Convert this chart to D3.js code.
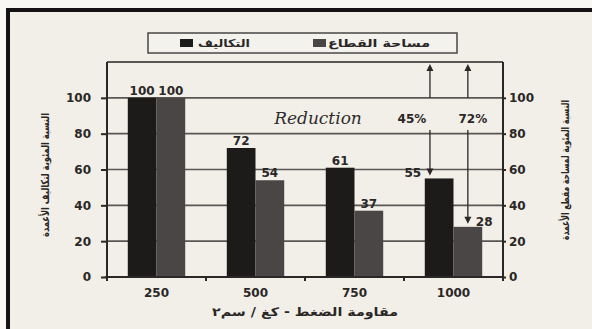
<!DOCTYPE html>
<html>
<head>
<meta charset="utf-8">
<script src="https://cdn.jsdelivr.net/npm/d3@7"></script>
<style>
  html, body { margin: 0; padding: 0; background: #f7f6f3; }
  svg { display: block; }
</style>
</head>
<body>
<svg id="chart" width="592" height="329"></svg>
<script>
// Compressive strength classes (kg/cm²)
const categories = ["250", "500", "750", "1000"];
// Relative column cost (%)
const costValues = [100, 72, 61, 55];
// Relative column cross-section area (%)
const areaValues = [100, 54, 37, 28];
const seriesKeys = ["cost", "area"];
const seriesNames = ["التكاليف", "مساحة القطاع"];
const yTicks = [0, 20, 40, 60, 80, 100];
// Reduction from the 250 class to the 1000 class
const reductionLabels = ["45%", "72%"];

const W = 592, H = 329;
const svg = d3.select("#chart");
const colors = { cost: "#1d1a1a", area: "#4a4646" };
const ink = "#2a2727";
const grid = "#5a5656";
const numFont = "'DejaVu Sans', sans-serif";

// page frame
svg.append("rect").attr("x", 0).attr("y", 0).attr("width", W).attr("height", H).attr("fill", "#f8f7f4");
svg.append("rect").attr("x", 8).attr("y", 10).attr("width", W - 8).attr("height", H - 10).attr("fill", "#f2efe8");
svg.append("line").attr("x1", 8).attr("x2", W).attr("y1", 10).attr("y2", 10).attr("stroke", "#141212").attr("stroke-width", 4);
svg.append("line").attr("x1", 8).attr("x2", 8).attr("y1", 8).attr("y2", H).attr("stroke", "#141212").attr("stroke-width", 4);

const plot = { left: 107, right: 503, top: 62, bottom: 277 };

const x = d3.scaleBand().domain(categories).range([plot.left, plot.right]).paddingInner(0.42).paddingOuter(0.21);
const x1 = d3.scaleBand().domain(seriesKeys).range([0, x.bandwidth()]);
const y = d3.scaleLinear().domain([0, 120]).range([plot.bottom, plot.top]);

// horizontal grid
svg.append("g").selectAll("line").data(yTicks.filter(d => d > 0)).join("line")
  .attr("x1", plot.left).attr("x2", plot.right)
  .attr("y1", d => y(d)).attr("y2", d => y(d))
  .attr("stroke", grid).attr("stroke-width", 1.6);

// plot box top
svg.append("line").attr("x1", plot.left).attr("x2", plot.right).attr("y1", plot.top).attr("y2", plot.top)
  .attr("stroke", grid).attr("stroke-width", 1.8);

// bars
const rows = categories.map((c, i) => ({ cat: c, cost: costValues[i], area: areaValues[i] }));
const groups = svg.append("g").selectAll("g").data(rows).join("g")
  .attr("transform", d => `translate(${x(d.cat)},0)`);
groups.selectAll("rect").data(d => seriesKeys.map(k => ({ key: k, value: d[k] }))).join("rect")
  .attr("x", d => x1(d.key)).attr("width", x1.bandwidth())
  .attr("y", d => y(d.value)).attr("height", d => y(0) - y(d.value))
  .attr("fill", d => colors[d.key]);

// value labels (the last group's labels sit beside the arrow heads)
groups.selectAll("text").data((d, gi) => seriesKeys.map(k => ({ key: k, value: d[k], last: gi === categories.length - 1 }))).join("text")
  .attr("x", d => {
    if (!d.last) return x1(d.key) + x1.bandwidth() / 2;
    return d.key === "cost" ? x1(d.key) - 12 : x1(d.key) + x1.bandwidth() + 2;
  })
  .attr("y", d => d.last ? y(d.value) - 1 : y(d.value) - 3)
  .attr("text-anchor", "middle")
  .attr("font-family", numFont).attr("font-weight", "bold").attr("font-size", 12)
  .attr("fill", ink)
  .text(d => d.value);

// left axis
const leftAxis = svg.append("g").attr("transform", `translate(${plot.left},0)`)
  .call(d3.axisLeft(y).tickValues(yTicks).tickSize(6).tickPadding(10));
leftAxis.select(".domain").attr("d", `M0,${plot.top}V${plot.bottom}`);
// right axis
const rightAxis = svg.append("g").attr("transform", `translate(${plot.right},0)`)
  .call(d3.axisRight(y).tickValues(yTicks).tickSize(3).tickPadding(3));
rightAxis.select(".domain").attr("d", `M0,${plot.top}V${plot.bottom}`);
[leftAxis, rightAxis].forEach(a => {
  a.select(".domain").attr("stroke", ink).attr("stroke-width", 2);
  a.selectAll(".tick line").attr("stroke", ink).attr("stroke-width", 2);
  a.selectAll(".tick text").attr("font-family", numFont).attr("font-weight", "bold")
    .attr("font-size", 12).attr("fill", ink);
});

// bottom axis: ticks at category boundaries
const xAxis = svg.append("g").attr("transform", `translate(0,${plot.bottom})`);
xAxis.append("line").attr("x1", plot.left - 2).attr("x2", plot.right).attr("y1", 0).attr("y2", 0)
  .attr("stroke", ink).attr("stroke-width", 2.2);
const bounds = categories.map(c => x(c) - x.step() * x.paddingInner() / 2).concat([plot.right]);
xAxis.selectAll("line.b").data(bounds).join("line").attr("class", "b")
  .attr("x1", d => d).attr("x2", d => d).attr("y1", 0).attr("y2", 4)
  .attr("stroke", ink).attr("stroke-width", 2);
xAxis.selectAll("text").data(categories).join("text")
  .attr("x", d => x(d) + x.bandwidth() / 2).attr("y", 20)
  .attr("text-anchor", "middle").attr("font-family", numFont).attr("font-weight", "bold")
  .attr("font-size", 12).attr("fill", ink).text(d => d);

// Arabic text helper: fixed-width runs so the titles keep their printed proportions
function arabic(sel, txt, size, len) {
  return sel.attr("direction", "rtl").attr("font-family", numFont).attr("font-weight", "bold")
    .attr("font-size", size).attr("fill", ink)
    .attr("textLength", len).attr("lengthAdjust", "spacingAndGlyphs").text(txt);
}

// axis titles
arabic(svg.append("text").attr("x", 305).attr("y", 316).attr("text-anchor", "middle"),
  "مقاومة الضغط - كغ / سم٢", 12, 186);
arabic(svg.append("text").attr("transform", "translate(49,175) rotate(-90)").attr("text-anchor", "middle"),
  "النسبة المئوية لتكاليف الأعمدة", 11, 124);
arabic(svg.append("text").attr("transform", "translate(569,170) rotate(-90)").attr("text-anchor", "middle"),
  "النسبة المئوية لمساحة مقطع الأعمدة", 11, 140);

// legend
const lg = svg.append("g");
lg.append("rect").attr("x", 148).attr("y", 33).attr("width", 309).attr("height", 20)
  .attr("fill", "#f4f2ed").attr("stroke", "#4a4646").attr("stroke-width", 1.5);
const legendItems = [
  { key: "cost", name: seriesNames[0], sx: 180, tx: 250, len: 52 },
  { key: "area", name: seriesNames[1], sx: 313, tx: 430, len: 102 }
];
legendItems.forEach(it => {
  lg.append("rect").attr("x", it.sx).attr("y", 39).attr("width", 13).attr("height", 8).attr("fill", colors[it.key]);
  arabic(lg.append("text").attr("x", it.tx).attr("y", 47).attr("text-anchor", "start"), it.name, 11, it.len);
});

// reduction annotation
const last = categories[categories.length - 1];
const arrowX = [x(last) + x1("cost") + x1.bandwidth() * 0.18, x(last) + x1("area") + x1.bandwidth() / 2];
const endVals = [costValues[costValues.length - 1], areaValues[areaValues.length - 1]];
const labelY = y(89);
svg.append("text").attr("x", 318).attr("y", labelY + 6).attr("text-anchor", "middle")
  .attr("font-family", "'DejaVu Serif', serif").attr("font-style", "italic").attr("font-size", 17)
  .attr("fill", "#2f2c2c").text("Reduction");
arrowX.forEach((ax, i) => {
  const tri = (tx, ty, dir) => `M${tx},${ty} L${tx - 3.5},${ty - 7 * dir} L${tx + 3.5},${ty - 7 * dir} Z`;
  // upward arrow from the 100 line to the top of the box
  svg.append("line").attr("x1", ax).attr("x2", ax).attr("y1", y(100)).attr("y2", plot.top + 5)
    .attr("stroke", ink).attr("stroke-width", 1.3);
  svg.append("path").attr("d", tri(ax, plot.top + 2, -1)).attr("fill", ink);
  // downward arrow from the label to the last bar
  svg.append("line").attr("x1", ax).attr("x2", ax).attr("y1", y(82)).attr("y2", y(endVals[i]) - 8)
    .attr("stroke", ink).attr("stroke-width", 1.3);
  svg.append("path").attr("d", tri(ax, y(endVals[i]) - 3, 1)).attr("fill", ink);
  svg.append("text").attr("x", ax + (i === 0 ? -18 : 5)).attr("y", labelY + 5).attr("text-anchor", "middle")
    .attr("font-family", numFont).attr("font-weight", "bold").attr("font-size", 12).attr("fill", ink)
    .text(reductionLabels[i]);
});
</script>
</body>
</html>
